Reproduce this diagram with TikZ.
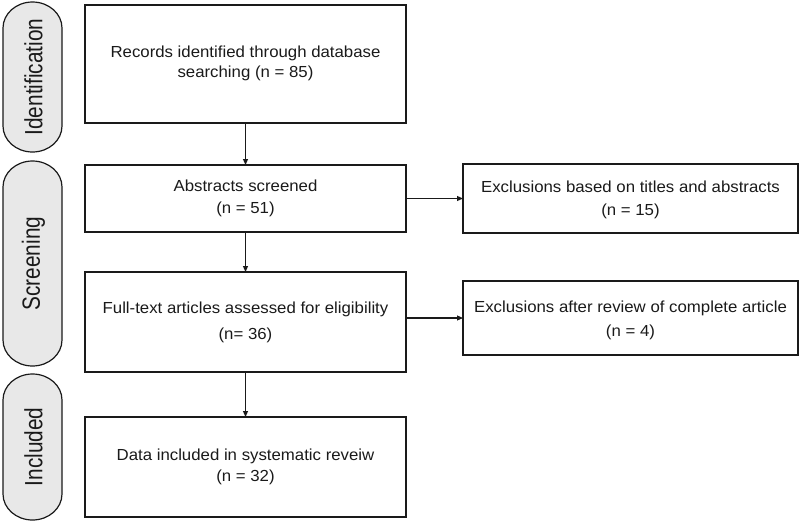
\documentclass[tikz,border=0pt]{standalone}
\usepackage{fontspec}
\setmainfont{Liberation Sans}
\usetikzlibrary{arrows.meta}
\newcommand{\wide}[1]{\scalebox{1.05}[1]{#1}}
\newcommand{\tallx}[1]{\scalebox{1}[1.2]{#1}}
\definecolor{ink}{HTML}{1A1A1A}
\definecolor{pillfill}{HTML}{E8E8E8}
\begin{document}
\begin{tikzpicture}[x=1pt,y=-1pt,
  box/.style={draw=ink, line width=1.2pt, inner sep=0pt, outer sep=0pt},
  txt/.style={anchor=base, inner sep=0pt, font=\fontsize{16}{18}\selectfont, text=ink},
  pilltxt/.style={rotate=90, inner sep=0pt, font=\fontsize{20.8}{24}\selectfont, text=ink},
  pill/.style={draw=ink, fill=pillfill, line width=1.2pt},
  arr/.style={draw=ink, line width=1.1pt, -{Triangle[length=6pt,width=5pt]}}]
\useasboundingbox (0,0) rectangle (800,523);

% stage pills
\draw[pill] (3,28) arc[start angle=180,end angle=360,x radius=29.5,y radius=26] -- (62,126) arc[start angle=0,end angle=180,x radius=29.5,y radius=26] -- cycle;
\draw[pill] (3,187) arc[start angle=180,end angle=360,x radius=29.5,y radius=26] -- (62,340) arc[start angle=0,end angle=180,x radius=29.5,y radius=26] -- cycle;
\draw[pill] (3,400) arc[start angle=180,end angle=360,x radius=29.5,y radius=26] -- (62,494) arc[start angle=0,end angle=180,x radius=29.5,y radius=26] -- cycle;
\node[pilltxt] (p1) at (33.5,77) {\tallx{Identification}};
\node[pilltxt] (p2) at (33.5,263.5) {\tallx{Screening}};
\node[pilltxt] (p3) at (33.5,447) {\tallx{Included}};

% boxes
\node[box, minimum width=321pt, minimum height=118pt] (b1) at (245.5,64) {};
\node[box, minimum width=321pt, minimum height=67pt] (b2) at (245.5,198.5) {};
\node[box, minimum width=321pt, minimum height=100pt] (b3) at (245.5,322) {};
\node[box, minimum width=321pt, minimum height=100pt] (b4) at (245.5,467) {};
\node[box, minimum width=335pt, minimum height=69pt] (ea) at (630.5,198.5) {};
\node[box, minimum width=335pt, minimum height=74pt] (eb) at (630.5,318) {};

% texts
\node[txt] (t1a) at (245.5,57.3) {\wide{Records identified through database}};
\node[txt] (t1b) at (245.5,77.3) {\wide{searching (n = 85)}};
\node[txt] (t2a) at (245.5,191.7) {\wide{Abstracts screened}};
\node[txt] (t2b) at (245.5,213.3) {\wide{(n = 51)}};
\node[txt] (t3a) at (245.5,313.3) {\wide{Full-text articles assessed for eligibility}};
\node[txt] (t3b) at (245.5,339) {\wide{(n= 36)}};
\node[txt] (t4a) at (245.5,460) {\wide{Data included in systematic reveiw}};
\node[txt] (t4b) at (245.5,481.7) {\wide{(n = 32)}};
\node[txt] (tea) at (630.5,192.7) {\wide{Exclusions based on titles and abstracts}};
\node[txt] (teb) at (630.5,215.7) {\wide{(n = 15)}};
\node[txt] (tfa) at (630.5,312.7) {\wide{Exclusions after review of complete article}};
\node[txt] (tfb) at (630.5,336.7) {\wide{(n = 4)}};

% connectors
\draw[arr] (b1) -- (b2);
\draw[arr] (b2) -- (b3);
\draw[arr] (b3) -- (b4);
\draw[arr] (b2.east) -- (ea.west);
\draw[arr] (b3.east |- eb.west) -- (eb.west);
\end{tikzpicture}
\end{document}
